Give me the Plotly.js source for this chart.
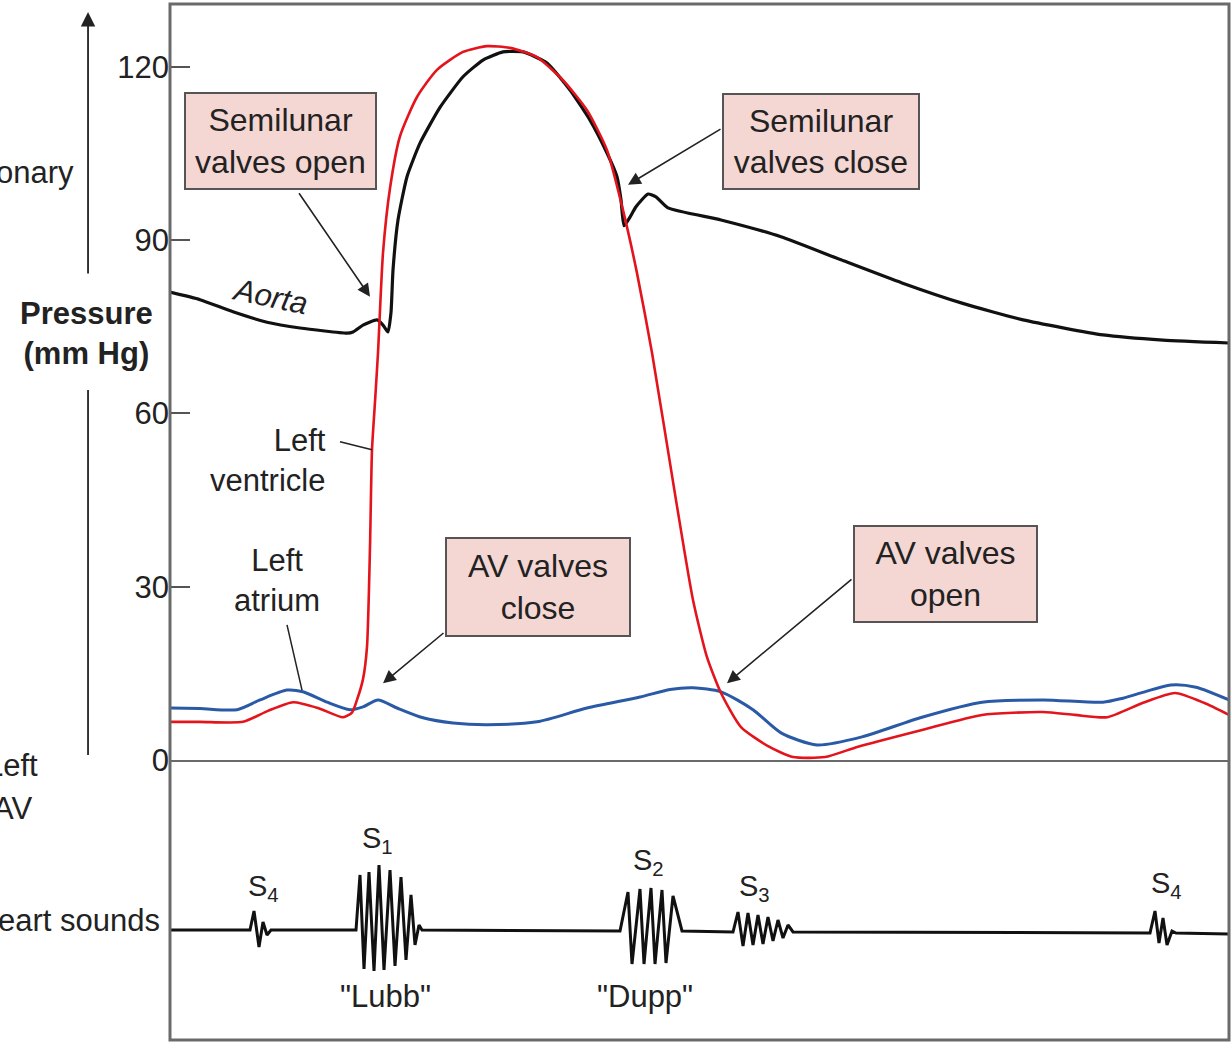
<!DOCTYPE html>
<html>
<head>
<meta charset="utf-8">
<script src="https://cdn.plot.ly/plotly-3.0.1.min.js"></script>
<style>html,body{margin:0;padding:0;background:#fff;}#chart{width:1231px;height:1043px;}</style>
</head>
<body>
<div id="chart"></div>
<script>
// Time axis: arbitrary units across one cardiac cycle
// Aortic pressure (mm Hg)
const aortaT = [170,200,233,267,300,347,353,363,377,383,388,391,393,398,407,420,440,463,483,503,523,547,570,590,607,617,621,624,630,636,648,656,668,721,781,841,902,962,1023,1103,1163,1229];
const aortaP = [81.0,79.7,77.6,75.8,74.8,73.9,74.1,75.3,76.2,75.3,74.1,77.5,84.8,93.5,101,106.8,113,118.3,121.2,122.6,122.6,120.7,116,110.8,105.1,101,97,92.5,94,95.8,98,97.5,95.6,93.5,90.6,86.6,82.6,79.1,76.2,73.6,72.7,72.2];

// Left ventricular pressure (mm Hg)
const lvT = [170,200,243,268,293,318,343,352,357,363,367,370,372,375,378,383,390,400,417,437,463,487,510,537,563,587,607,623,637,652,676,693,707,721,741,769,793,825,858,922,982,1043,1075,1107,1143,1175,1204,1229];
const lvP = [6.6,6.6,6.6,8.5,10.0,9.0,7.4,8.2,10.4,14,19.6,36.9,53.7,62,70.5,87.8,99,108,114.8,119.5,122.6,123.6,123.3,121.7,117.7,112.5,105.6,95.2,84.3,70.5,45,27.7,17.8,11.6,5.7,2.3,0.5,0.5,2.3,5.2,7.8,8.3,7.8,7.4,9.9,11.6,9.9,7.8];

// Left atrial pressure (mm Hg)
const laT = [170,200,237,260,287,303,327,350,363,378,397,423,453,487,537,587,640,670,693,721,753,781,817,862,922,982,1043,1103,1123,1171,1196,1229];
const laP = [9.0,8.9,8.7,10.4,12.1,11.8,10.0,8.7,9.2,10.4,9.0,7.3,6.4,6.1,6.6,9.0,10.9,12.2,12.5,11.8,8.7,4.7,2.6,4.0,7.4,10.0,10.4,10.0,10.7,13.0,12.6,10.4];

// Heart sounds (phonocardiogram, arbitrary amplitude)
const soundT = [170,250,254,259,263,267,271,
  356,360,364,369,374,379,384,390,395,401,406,411,415,419,422,
  620,628,632,640,644,651,655,662,666,673,682,
  733,738,743,748,753,758,763,768,773,778,783,788,793,
  1150,1155,1159,1163,1167,1172,1176,1229];
const soundA = [0,0,1.9,-1.7,0.8,-0.5,0,
  0,5.5,-3.9,5.8,-4.1,6.5,-4.0,6.0,-3.6,5.3,-3.0,3.5,-1.5,0.5,0,
  -0.1,3.8,-3.4,4.1,-3.4,4.2,-3.4,4.0,-3.3,3.4,-0.1,
  -0.2,1.8,-1.6,1.7,-1.5,1.5,-1.4,1.3,-1.1,1.0,-0.8,0.5,-0.2,
  -0.3,1.9,-1.3,1.2,-1.5,-0.1,-0.3,-0.4];

const pressureTicks = [0, 30, 60, 90, 120];

const FONT = 'Liberation Sans, Arial, Helvetica, sans-serif';
const TXT = '#222';
const BOXFILL = '#f4d6d3';

const traces = [
  {x: laT, y: laP, type: 'scatter', mode: 'lines', name: 'Left atrium',
   line: {color: '#2a5aa6', width: 3, shape: 'spline', smoothing: 0.7}, xaxis: 'x', yaxis: 'y'},
  {x: aortaT, y: aortaP, type: 'scatter', mode: 'lines', name: 'Aorta',
   line: {color: '#111', width: 3.2, shape: 'spline', smoothing: 0.5}, xaxis: 'x', yaxis: 'y'},
  {x: lvT, y: lvP, type: 'scatter', mode: 'lines', name: 'Left ventricle',
   line: {color: '#e3141c', width: 2.6, shape: 'spline', smoothing: 0.6}, xaxis: 'x', yaxis: 'y'},
  {x: soundT, y: soundA, type: 'scatter', mode: 'lines', name: 'Heart sounds',
   line: {color: '#111', width: 3}, xaxis: 'x', yaxis: 'y2'}
];

function box(text, x, y, w, h) {
  return {text: text, x: x, y: y, xref: 'x', yref: 'y', showarrow: false,
    xanchor: 'center', yanchor: 'middle',
    bgcolor: BOXFILL, bordercolor: '#555', borderwidth: 2, borderpad: 1,
    width: w, height: h, align: 'center', font: {family: FONT, size: 32, color: TXT}};
}
function arrow(hx, hy, tx, ty) {
  return {text: '', x: hx, y: hy, ax: tx, ay: ty, xref: 'x', yref: 'y', axref: 'x', ayref: 'y',
    showarrow: true, arrowhead: 2, arrowsize: 1.6, arrowwidth: 1.6, arrowcolor: '#222'};
}
function label(text, x, y, yref, size, extra) {
  return Object.assign({text: text, x: x, y: y, xref: 'x', yref: yref || 'y', showarrow: false,
    xanchor: 'center', yanchor: 'middle',
    font: {family: FONT, size: size || 31, color: TXT}}, extra || {});
}
function ptext(text, x, y, xanchor, extra) {
  return Object.assign({text: text, x: x, y: y, xref: 'paper', yref: 'paper', showarrow: false,
    xanchor: xanchor || 'center', yanchor: 'middle',
    font: {family: FONT, size: 31, color: TXT}}, extra || {});
}

const annotations = [
  box('Semilunar<br>valves open', 280, 107.2, 187, 92),
  box('Semilunar<br>valves close', 821, 107.1, 192, 91),
  box('AV valves<br>close', 538, 30.0, 180, 94),
  box('AV valves<br>open', 945.5, 32.2, 179, 92),
  arrow(370, 80.2, 298, 98.4),
  arrow(628, 99.6, 722, 109.4),
  arrow(383, 13.3, 445, 22.2),
  arrow(727, 13.3, 853, 31.5),
  label('<i>Aorta</i>', 270, 80.2, 'y', 31, {textangle: 12}),
  label('Left<br>ventricle', 328, 51.9, 'y', 31, {xanchor: 'right', align: 'right'}),
  label('Left<br>atrium', 277, 31.0, 'y', 31),
  label('S<sub>4</sub>', 263, 4.2, 'y2', 29),
  label('S<sub>1</sub>', 377, 9.0, 'y2', 29),
  label('S<sub>2</sub>', 648, 6.8, 'y2', 29),
  label('S<sub>3</sub>', 754, 4.2, 'y2', 29),
  label('S<sub>4</sub>', 1166, 4.5, 'y2', 29),
  label('"Lubb"', 385, -6.7, 'y2', 31),
  label('"Dupp"', 645, -6.7, 'y2', 31),
  // outside-plot labels on the left
  {text: '', x: -0.0774, y: 0.9923, xref: 'paper', yref: 'paper', ax: 0, ay: 263,
   showarrow: true, arrowhead: 2, arrowsize: 1.6, arrowwidth: 1.8, arrowcolor: '#222'},
  ptext('<b>Pressure</b><br><b>(mm Hg)</b>', -0.0793, 0.6815, 'center'),
  ptext('onary', -0.0888, 0.8378, 'right'),
  ptext('Left', -0.1228, 0.2645, 'right'),
  ptext('AV', -0.1284, 0.2239, 'right'),
  ptext('eart sounds', -0.0076, 0.1158, 'right')
];

const shapes = [
  {type: 'rect', xref: 'paper', yref: 'paper', x0: 0, x1: 1, y0: 0, y1: 1,
   line: {color: '#6a6a6a', width: 3}},
  {type: 'line', xref: 'paper', yref: 'paper', x0: -0.0774, x1: -0.0774, y0: 0.2751, y1: 0.6274,
   line: {color: '#222', width: 1.8}},
  {type: 'line', xref: 'x', yref: 'y', x0: 340, y0: 55.1, x1: 372, y1: 53.7,
   line: {color: '#222', width: 1.5}},
  {type: 'line', xref: 'x', yref: 'y', x0: 287, y0: 23.4, x1: 302, y1: 12.1,
   line: {color: '#222', width: 1.5}}
];

const layout = {
  width: 1231, height: 1043,
  margin: {l: 170, r: 2, t: 4, b: 3, pad: 0},
  paper_bgcolor: '#fff', plot_bgcolor: '#fff',
  showlegend: false,
  font: {family: FONT, color: TXT},
  xaxis: {range: [170, 1229], anchor: 'y', showline: true, linecolor: '#6a6a6a', linewidth: 2.5,
    showticklabels: false, ticks: '', showgrid: false, zeroline: false, fixedrange: true},
  yaxis: {domain: [0.2703, 1], range: [0, 130.9], tickmode: 'array', tickvals: pressureTicks,
    ticktext: pressureTicks.map(String), ticks: 'inside', ticklen: 20, tickwidth: 2, tickcolor: '#555',
    tickfont: {family: FONT, size: 31, color: TXT}, showgrid: false, zeroline: false, showline: false,
    fixedrange: true},
  yaxis2: {domain: [0, 0.2703], range: [-11, 17], anchor: 'x', showticklabels: false, ticks: '',
    showgrid: false, zeroline: false, showline: false, fixedrange: true},
  annotations: annotations,
  shapes: shapes
};

Plotly.newPlot('chart', traces, layout, {displayModeBar: false, staticPlot: true});
</script>
</body>
</html>
